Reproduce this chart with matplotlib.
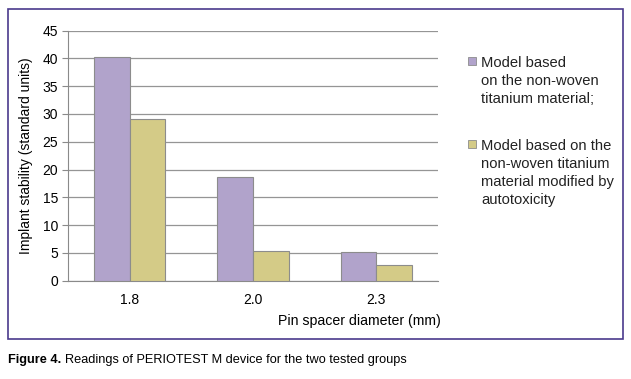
import numpy as np
import matplotlib.pyplot as plt
from matplotlib.patches import Rectangle

plt.rcParams['font.family'] = ['Liberation Sans', 'DejaVu Sans']

categories = ['1.8', '2.0', '2.3']
plain_model = [40.3, 18.6, 5.1]
modified_model = [29.1, 5.3, 2.9]
series_labels = ['Model based\non the non-woven\ntitanium material;',
                 'Model based on the\nnon-woven titanium\nmaterial modified by\nautotoxicity']
colors = ['#b1a3cb', '#d4cb87']

W, H = 631, 379
fig = plt.figure(figsize=(W / 100, H / 100), dpi=100)

def px(x0, y0, x1, y1):
    return [x0 / W, 1 - y1 / H, (x1 - x0) / W, (y1 - y0) / H]

# purple frame around the chart
fig.patches.append(Rectangle((8 / W, 1 - 339 / H), 615 / W, 330 / H, transform=fig.transFigure,
                             fill=False, edgecolor='#4a3a8c', linewidth=1.2))

ax = fig.add_axes(px(68, 30.5, 438, 280.7))
x = np.arange(len(categories))
w = 0.29
ax.bar(x - w / 2, plain_model, w, color=colors[0], edgecolor='#8c8c8c', linewidth=0.8, zorder=3)
ax.bar(x + w / 2, modified_model, w, color=colors[1], edgecolor='#8c8c8c', linewidth=0.8, zorder=3)

ax.set_xlim(-0.5, 2.5)
ax.set_ylim(0, 45)
ax.set_yticks(range(0, 46, 5))
ax.set_xticks(x)
ax.set_xticklabels(categories)
ax.grid(axis='y', color='#959595', linewidth=0.9, zorder=0)
for s in ['top', 'right']:
    ax.spines[s].set_visible(False)
ax.spines['left'].set_color('#8a8a8a')
ax.spines['bottom'].set_color('#8a8a8a')
ax.tick_params(axis='y', length=4, color='#8a8a8a', labelsize=10, pad=3)
ax.tick_params(axis='x', length=0, labelsize=10, pad=9)
ax.set_ylabel('Implant stability (standard units)', fontsize=10, labelpad=7)

fig.text(441 / W, 1 - 321 / H, 'Pin spacer diameter (mm)', ha='right', va='center', fontsize=10.2)

# legend drawn by hand: square next to the first line of each label
for label, col, ytop in zip(series_labels, colors, [56, 139]):
    fig.patches.append(Rectangle((468 / W, 1 - (ytop + 9) / H), 8 / W, 8 / H,
                                 transform=fig.transFigure, facecolor=col,
                                 edgecolor='#8c8c8c', linewidth=0.6))
    fig.text(481 / W, 1 - ytop / H, label, ha='left', va='top', fontsize=10.6,
             linespacing=1.35, color='#222222')

fig.text(8 / W, 1 - 360 / H, 'Figure 4.', fontweight='bold', fontsize=9.2, va='center')
fig.text(65 / W, 1 - 360 / H, 'Readings of PERIOTEST M device for the two tested groups',
         fontsize=9.2, va='center')

fig.savefig('out.png', dpi=100)
